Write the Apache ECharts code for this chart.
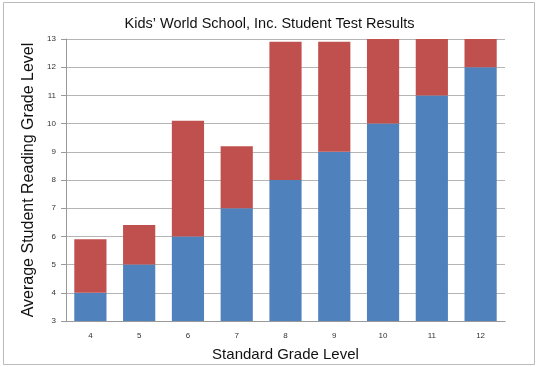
<!DOCTYPE html>
<html><head><meta charset="utf-8">
<script src="https://cdn.jsdelivr.net/npm/echarts@6/dist/echarts.min.js"></script>
<style>html,body{margin:0;padding:0;background:#fff}#c{width:539px;height:367px}</style>
</head><body><div id="c"></div>
<script>
const categories = ['4','5','6','7','8','9','10','11','12'];
const baseLevel = [4, 5, 6, 7, 8, 9, 10, 11, 12];
const totalLevel = [5.9, 6.4, 10.1, 9.2, 12.9, 12.9, 13, 13, 13];
const extra = totalLevel.map((t, i) => +(t - baseLevel[i]).toFixed(2));
const chart = echarts.init(document.getElementById('c'));
chart.setOption({
  animation: false,
  backgroundColor: '#fff',
  title: {
    text: 'Kids’ World School, Inc. Student Test Results',
    left: 'center', top: 11,
    textStyle: {fontFamily: 'Liberation Sans', fontSize: 14.5, fontWeight: 'normal', color: '#111'}
  },
  graphic: [{type: 'rect', shape: {x: 3.5, y: 2.5, width: 531, height: 362}, style: {fill: null, stroke: '#bbb', lineWidth: 1}, silent: true}],
  grid: {left: 66, right: 34, top: 39, bottom: 43},
  xAxis: {
    type: 'category', data: categories,
    name: 'Standard Grade Level', nameLocation: 'middle', nameGap: 26,
    nameTextStyle: {fontFamily: 'Liberation Sans', fontSize: 15, color: '#111'},
    axisLine: {lineStyle: {color: '#999'}},
    axisTick: {show: false},
    axisLabel: {fontFamily: 'Liberation Sans', fontSize: 8, color: '#333', margin: 11}
  },
  yAxis: {
    type: 'value', min: 3, max: 13, interval: 1,
    name: 'Average Student Reading Grade Level', nameLocation: 'middle', nameGap: 29,
    nameTextStyle: {fontFamily: 'Liberation Sans', fontSize: 16, color: '#111'},
    axisLine: {show: true, lineStyle: {color: '#999'}},
    axisTick: {show: true, length: 5, lineStyle: {color: '#999'}},
    axisLabel: {fontFamily: 'Liberation Sans', fontSize: 8, color: '#333', margin: 10},
    splitLine: {lineStyle: {color: '#b5b5b5'}}
  },
  series: [
    {type: 'bar', stack: 's', data: baseLevel, barCategoryGap: '34%', itemStyle: {color: '#4f81bd'}},
    {type: 'bar', stack: 's', data: extra, itemStyle: {color: '#c0504d'}}
  ]
});
</script></body></html>
